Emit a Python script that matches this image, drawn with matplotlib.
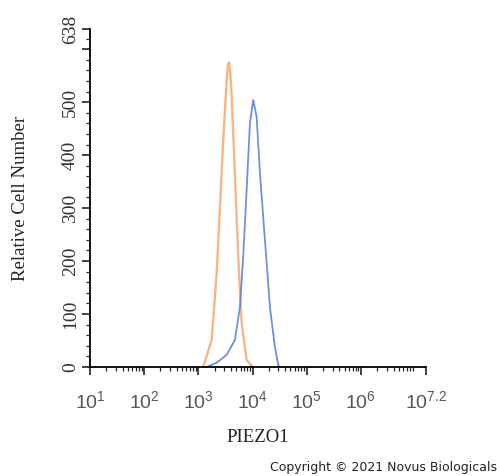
import matplotlib
matplotlib.use("Agg")
import matplotlib.pyplot as plt
from matplotlib.ticker import FixedLocator, LogLocator, NullFormatter

plt.rcParams['mathtext.fontset'] = 'custom'
plt.rcParams['mathtext.rm'] = 'Liberation Sans'

# control (orange) and PIEZO1 stained (blue) histograms
orange_x = [1230, 1760, 2180, 2510, 2880, 3330, 3500, 3670, 3850, 4110, 4730, 5450, 6300, 7780, 10160]
orange_y = [0, 51, 177, 302, 428, 540, 568, 575, 560, 515, 366, 208, 83, 13, 0]

blue_x = [1420, 2180, 3330, 4730, 5860, 6730, 7780, 8950, 10300, 11910,
          13710, 16940, 20940, 25880, 29790, 31620]
blue_y = [0, 8, 23, 51, 113, 208, 334, 460, 504, 472, 366, 240, 113, 38, 4, 0]

xticks = [1e1, 1e2, 1e3, 1e4, 1e5, 1e6, 10**7.2]
xlabels = ['1', '2', '3', '4', '5', '6', '7.2']
yticks = [0, 100, 200, 300, 400, 500, 600, 638]
ylabels = ['0', '100', '200', '300', '400', '500', '', '638']

fig = plt.figure(figsize=(4.97, 4.76), dpi=100)
ax = fig.add_axes([0.181, 0.229, 0.676, 0.710])

ax.plot(orange_x, orange_y, color='#f4a870', linewidth=1.7, alpha=0.85)
ax.plot(blue_x, blue_y, color='#5f85d6', linewidth=1.3, alpha=0.9)

ax.set_xscale('log')
ax.set_xlim(1e1, 10**7.2)
ax.set_ylim(0, 638)

for s in ['top', 'right']:
    ax.spines[s].set_visible(False)
ax.spines['left'].set_linewidth(1.3)
ax.spines['bottom'].set_linewidth(1.3)

ax.set_xticks(xticks)
ax.set_xticklabels([r'$\mathregular{10^{%s}}$' % e for e in xlabels],
                   fontsize=14, color='#5f5252', family='Liberation Sans')
ax.xaxis.set_minor_locator(LogLocator(base=10, subs=range(2, 10), numticks=20))
ax.xaxis.set_minor_formatter(NullFormatter())

ax.set_yticks(yticks)
ax.set_yticklabels(ylabels, rotation=90, va='center', fontsize=14,
                   family='Liberation Serif', color='#333333')
ax.yaxis.set_minor_locator(FixedLocator([v for v in range(20, 638, 20) if v % 100]))

ax.tick_params(which='major', length=6, width=1.2, direction='out', color='#222222')
ax.tick_params(which='minor', length=3, width=0.9, direction='out', color='#222222')
ax.tick_params(axis='x', pad=11)
ax.tick_params(axis='y', pad=2)

ax.set_xlabel('PIEZO1', family='Liberation Serif', fontsize=13.5, labelpad=12, color='#222222')
ax.set_ylabel('Relative Cell Number', family='Liberation Serif', fontsize=13.5, labelpad=24,
              color='#222222')

fig.text(1.0, 0.004, 'Copyright \u00a9 2021 Novus Biologicals', ha='right', va='bottom',
         fontsize=9, family='DejaVu Sans', color='#222222')

fig.savefig('out.png', dpi=100)
